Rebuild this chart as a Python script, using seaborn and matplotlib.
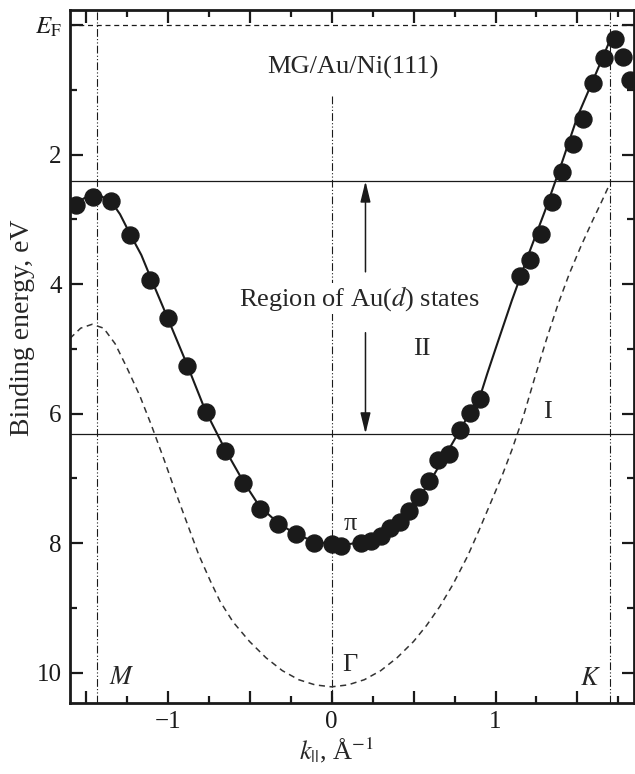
import numpy as np
import pandas as pd
import seaborn as sns
import matplotlib.pyplot as plt
from matplotlib.ticker import MultipleLocator, FixedLocator, FixedFormatter

# measured pi-band points: k (1/A) and binding energy (eV)
k_dots = [-1.559, -1.454, -1.348, -1.230, -1.108, -0.996, -0.880, -0.768, -0.651, -0.543,
          -0.437, -0.326, -0.218, -0.108, 0.000, 0.055, 0.177, 0.238, 0.299, 0.355,
          0.416, 0.473, 0.534, 0.595, 0.650, 0.717, 0.782, 0.843, 0.904, 1.148,
          1.213, 1.280, 1.345, 1.408, 1.473, 1.534, 1.595, 1.660, 1.727, 1.778, 1.819]
e_dots = [2.78, 2.66, 2.72, 3.24, 3.93, 4.53, 5.27, 5.97, 6.58, 7.07,
          7.47, 7.70, 7.86, 8.00, 8.02, 8.04, 8.00, 7.97, 7.89, 7.77,
          7.67, 7.51, 7.28, 7.04, 6.71, 6.63, 6.25, 5.99, 5.77, 3.88,
          3.63, 3.23, 2.73, 2.27, 1.84, 1.45, 0.90, 0.51, 0.22, 0.49, 0.85]

# solid line drawn through the points
k_fit = [-1.596, -1.54, -1.48, -1.42, -1.35, -1.29, -1.23, -1.16, -1.10, -1.00, -0.88, -0.77,
         -0.65, -0.54, -0.44, -0.33, -0.22, -0.11, 0.00, 0.10, 0.20, 0.30, 0.40, 0.50,
         0.60, 0.70, 0.78, 0.84, 0.905, 0.95, 1.00, 1.10, 1.20, 1.30, 1.40, 1.50, 1.60, 1.707]
e_fit = [2.84, 2.72, 2.63, 2.63, 2.70, 2.92, 3.22, 3.55, 3.92, 4.52, 5.25, 5.95,
         6.55, 7.04, 7.43, 7.68, 7.86, 7.97, 8.02, 8.02, 7.97, 7.87, 7.70, 7.42,
         7.05, 6.62, 6.27, 6.00, 5.74, 5.38, 5.00, 4.25, 3.55, 2.88, 2.16, 1.41, 0.82, 0.18]

# calculated band (dashed)
k_calc = [-1.596, -1.53, -1.46, -1.39, -1.32, -1.25, -1.17, -1.10, -1.02, -0.95, -0.88, -0.81,
          -0.74, -0.68, -0.60, -0.50, -0.40, -0.30, -0.20, -0.10, 0.00, 0.10, 0.20, 0.30,
          0.40, 0.50, 0.58, 0.66, 0.74, 0.83, 0.90, 0.97, 1.04, 1.10, 1.17, 1.24, 1.31,
          1.38, 1.45, 1.52, 1.59, 1.65, 1.697]
e_calc = [4.84, 4.68, 4.62, 4.68, 4.92, 5.28, 5.72, 6.17, 6.72, 7.22, 7.70, 8.18,
          8.58, 8.90, 9.22, 9.52, 9.77, 9.97, 10.11, 10.19, 10.22, 10.19, 10.11, 9.97,
          9.77, 9.52, 9.27, 8.98, 8.64, 8.20, 7.80, 7.38, 6.96, 6.56, 6.04, 5.44, 4.86,
          4.32, 3.84, 3.42, 3.03, 2.71, 2.45]

k_sym = {"M": -1.433, "G": 0.0, "K": 1.697}
e_au_top, e_au_bottom = 2.41, 6.31

dots = pd.DataFrame({"k": k_dots, "E": e_dots})
fit = pd.DataFrame({"k": k_fit, "E": e_fit})
calc = pd.DataFrame({"k": k_calc, "E": e_calc})

sns.set_theme(style="ticks")
plt.rcParams['font.family'] = ['Liberation Serif', 'DejaVu Serif']
plt.rcParams['mathtext.fontset'] = 'stix'

fig = plt.figure(figsize=(6.35, 7.74), dpi=100)
ax = fig.add_axes([0.110, 0.0917, 0.888, 0.895])

dashdot = (0, (7, 2, 1, 2, 1, 2))
ax.axvline(k_sym["M"], color='k', lw=0.8, ls=dashdot)
ax.axvline(k_sym["K"], color='k', lw=0.8, ls=dashdot)
ax.vlines(k_sym["G"], 1.1, 10.6, color='k', lw=0.8, ls=dashdot)
ax.axhline(0, color='k', lw=0.9, ls=(0, (4, 3)))
ax.axhline(e_au_top, color='k', lw=0.9)
ax.axhline(e_au_bottom, color='k', lw=0.9)

sns.lineplot(data=calc, x="k", y="E", sort=False, estimator=None, ax=ax,
             color='#333333', lw=1.1, ls=(0, (4, 3)))
sns.lineplot(data=fit, x="k", y="E", sort=False, estimator=None, ax=ax,
             color='k', lw=1.5)
sns.scatterplot(data=dots, x="k", y="E", ax=ax, s=150, color='k',
                edgecolor='k', zorder=3)

ax.set_xlim(-1.596, 1.843)
ax.set_ylim(10.47, -0.23)

fs = 18
ts = 19
ax.text(0.13, 0.66, "MG/Au/Ni(111)", fontsize=ts, ha='center', va='center')
ax.text(0.17, 4.22, r"Region of Au($d$) states", fontsize=ts, ha='center', va='center',
        bbox=dict(facecolor='white', edgecolor='none', pad=1))
ax.text(0.549, 5.0, "II", fontsize=ts, ha='center', va='center')
ax.text(1.317, 5.97, "I", fontsize=ts, ha='center', va='center')
ax.text(0.112, 7.70, "π", fontsize=ts, ha='center', va='center')
ax.text(0.112, 9.89, "Γ", fontsize=ts, ha='center', va='center')
ax.text(-1.28, 10.09, r"$M$", fontsize=ts, ha='center', va='center')
ax.text(1.579, 10.10, r"$K$", fontsize=ts, ha='center', va='center')

arrow = dict(arrowstyle='-|>,head_length=0.9,head_width=0.22', color='k', lw=1.1,
             mutation_scale=14, shrinkA=0, shrinkB=0)
ax.annotate('', xy=(0.207, e_au_top), xytext=(0.207, 3.81), arrowprops=arrow)
ax.annotate('', xy=(0.207, e_au_bottom), xytext=(0.207, 4.75), arrowprops=arrow)

# ticks
ax.xaxis.set_minor_locator(MultipleLocator(0.25))
xt = [-1.5, -1.0, -0.5, 0.0, 0.5, 1.0, 1.5]
ax.xaxis.set_major_locator(FixedLocator(xt))
ax.xaxis.set_major_formatter(FixedFormatter(["", "\u22121", "", "0", "", "1", ""]))
ax.yaxis.set_major_locator(FixedLocator([0, 2, 4, 6, 8, 10]))
ax.yaxis.set_major_formatter(FixedFormatter([r"$E_\mathrm{F}$", "2", "4", "6", "8", "10"]))
ax.yaxis.set_minor_locator(MultipleLocator(1))
ax.tick_params(which='both', direction='in', top=True, right=True, width=1.6,
               colors='k', labelsize=fs)
ax.tick_params(which='major', length=9, pad=6)
ax.tick_params(which='minor', length=5)
for s in ax.spines.values():
    s.set_linewidth(2)
    s.set_color('k')

ax.set_xlabel("")
ax.set_ylabel("")
fig.text(0.53, 0.030, r"$k_{||}$, Å$^{-1}$", fontsize=ts, ha='center', va='center')
fig.text(0.035, 0.576, "Binding energy, eV", fontsize=20, rotation=90,
         ha='center', va='center')

plt.savefig("out.png", dpi=100)
